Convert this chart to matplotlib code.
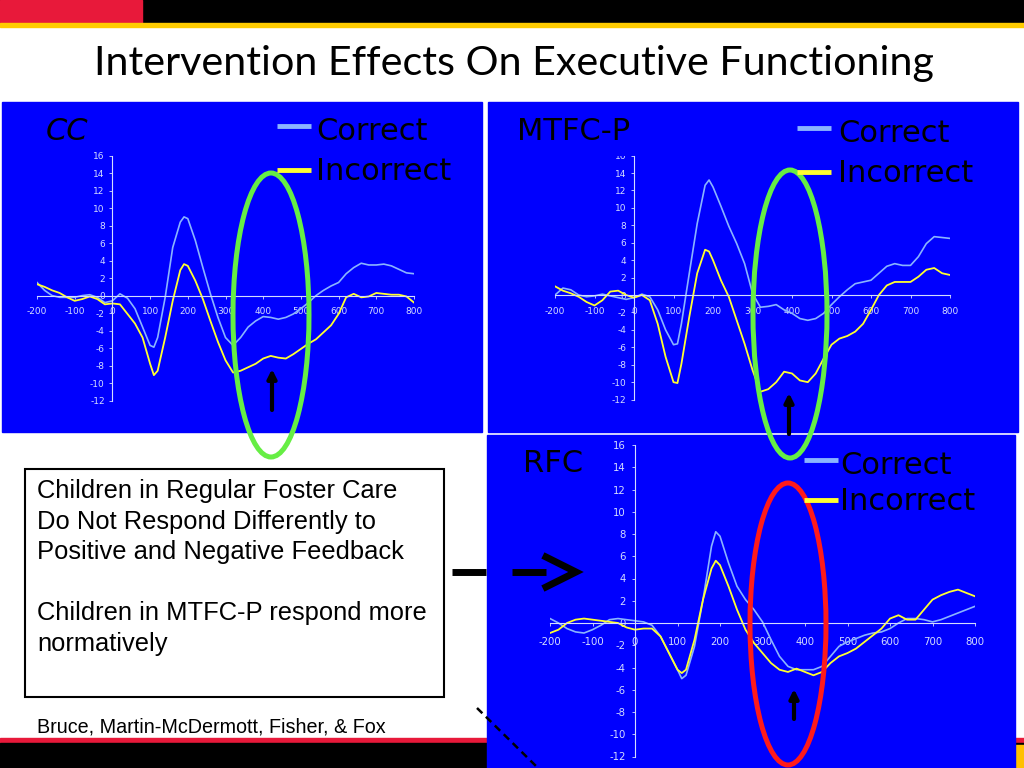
import matplotlib
matplotlib.use('Agg')
import matplotlib.pyplot as plt
from matplotlib.patches import Rectangle, Ellipse
from matplotlib.transforms import TransformedBbox, Bbox

plt.rcParams['axes.unicode_minus'] = False

# ERP time points (ms)
time_ms = [-200, -180, -160, -140, -120, -100, -80, -60, -40, -20,
           0, 20, 40, 60, 80, 100, 110, 120, 140, 160, 180, 190,
           200, 220, 240, 260, 280, 300, 320, 340, 360, 380,
           400, 420, 440, 460, 480, 500, 520, 540, 560, 580,
           600, 620, 640, 660, 680, 700, 720, 740, 760, 780, 800]

# CC group
cc_correct = [1.5, 0.6, 0.0, -0.2, -0.2, -0.2, 0.0, 0.1, -0.2, -0.8,
              -0.6, 0.2, -0.3, -1.5, -3.6, -5.7, -5.9, -4.8, -0.2, 5.5, 8.4, 9.0,
              8.8, 6.3, 3.2, 0.2, -2.5, -4.8, -5.7, -4.8, -3.6, -2.9,
              -2.4, -2.5, -2.7, -2.5, -2.1, -1.5, -0.8, 0.0, 0.6, 1.1,
              1.5, 2.5, 3.2, 3.7, 3.5, 3.5, 3.6, 3.4, 3.0, 2.6, 2.5]
cc_incorrect = [1.3, 1.0, 0.6, 0.3, -0.2, -0.6, -0.4, -0.1, -0.4, -1.0,
                -0.9, -1.0, -2.1, -3.2, -4.8, -7.8, -9.1, -8.6, -4.8, -0.6, 2.9, 3.6,
                3.4, 1.7, -0.4, -2.9, -5.3, -7.4, -8.8, -8.6, -8.2, -7.8,
                -7.2, -6.9, -7.1, -7.2, -6.7, -6.1, -5.5, -5.0, -4.2, -3.4,
                -2.1, -0.2, 0.2, -0.2, -0.1, 0.3, 0.2, 0.1, 0.1, -0.1, -0.8]

# MTFC-P group
mtfc_correct = [0.0, 0.8, 0.6, 0.0, -0.2, -0.1, 0.1, -0.1, -0.3, -0.5,
                -0.3, 0.1, -0.2, -1.7, -4.0, -5.7, -5.6, -3.3, 2.5, 8.2, 12.6, 13.2,
                12.4, 10.2, 7.9, 5.9, 3.6, 0.2, -1.4, -1.3, -1.1, -1.7,
                -2.1, -2.7, -2.9, -2.7, -2.1, -1.1, -0.2, 0.6, 1.3, 1.5,
                1.7, 2.5, 3.3, 3.6, 3.4, 3.4, 4.4, 5.9, 6.7, 6.6, 6.5]
mtfc_incorrect = [1.0, 0.5, 0.2, -0.2, -0.8, -1.2, -0.6, 0.4, 0.5, 0.0,
                  -0.3, 0.0, -0.6, -3.3, -7.1, -10.0, -10.1, -7.9, -2.5, 2.5, 5.2, 5.0,
                  4.0, 1.7, -0.2, -2.9, -5.6, -8.6, -11.1, -10.8, -10.0, -8.8,
                  -9.0, -9.8, -10.0, -9.0, -7.3, -5.7, -5.0, -4.7, -4.2, -3.3,
                  -1.7, 0.0, 1.1, 1.5, 1.5, 1.5, 2.1, 2.9, 3.1, 2.5, 2.3]

# RFC group
rfc_correct = [0.4, 0.0, -0.5, -0.8, -0.9, -0.6, -0.2, 0.3, 0.4, 0.3,
               0.2, 0.1, -0.2, -1.2, -2.7, -4.2, -5.0, -4.7, -2.1, 2.1, 6.9, 8.2,
               7.8, 5.4, 3.3, 2.1, 1.2, 0.1, -1.5, -3.0, -3.9, -4.2,
               -4.2, -4.2, -3.9, -3.0, -2.1, -1.7, -1.4, -1.1, -0.9, -0.8,
               -0.5, 0.0, 0.4, 0.4, 0.3, 0.1, 0.3, 0.6, 0.9, 1.2, 1.5]
rfc_incorrect = [-0.9, -0.6, 0.0, 0.3, 0.4, 0.3, 0.2, 0.1, 0.0, -0.4,
                 -0.6, -0.5, -0.5, -1.2, -2.7, -4.2, -4.5, -4.2, -1.5, 2.1, 4.9, 5.6,
                 5.2, 3.3, 1.2, -0.6, -1.8, -2.7, -3.6, -4.2, -4.4, -4.1,
                 -4.4, -4.7, -4.4, -3.6, -3.0, -2.7, -2.3, -1.7, -1.1, -0.5,
                 0.4, 0.7, 0.3, 0.3, 1.2, 2.1, 2.5, 2.8, 3.0, 2.7, 2.4]

x_ticks = [-200, -100, 0, 100, 200, 300, 400, 500, 600, 700, 800]
y_ticks = [-12, -10, -8, -6, -4, -2, 0, 2, 4, 6, 8, 10, 12, 14, 16]

title = 'Intervention Effects On Executive Functioning'
box_lines = ['Children in Regular Foster Care',
             'Do Not Respond Differently to',
             'Positive and Negative Feedback',
             '',
             'Children in MTFC-P respond more',
             'normatively']
citation = 'Bruce, Martin-McDermott, Fisher, & Fox'

W, H = 1024, 768
panel_blue = '#0000fe'
c_light = '#8ab4ff'
c_yellow = '#ffff30'
axis_col = '#d4dcff'

fig = plt.figure(figsize=(10.24, 7.68), dpi=100)

# slide background (pixel coordinates, y down)
bg = fig.add_axes([0, 0, 1, 1])
bg.set_xlim(0, W)
bg.set_ylim(H, 0)
bg.axis('off')

bg.add_patch(Rectangle((0, 0), W, 23, color='black'))
bg.add_patch(Rectangle((0, 0), 142, 23, color='#e8193a'))
bg.add_patch(Rectangle((0, 23), W, 4, color='#ffcc00'))
bg.add_patch(Rectangle((0, 738), W, 5, color='#e8193a'))
bg.add_patch(Rectangle((0, 743), W, 25, color='black'))
bg.add_patch(Rectangle((1015, 745), 9, 23, color='#ffc000'))

bg.text(514, 63, title, ha='center', va='center', fontsize=29.7,
        family=['Lato', 'DejaVu Sans'])

# blue panels
bg.add_patch(Rectangle((2, 102), 480, 330, color=panel_blue))
bg.add_patch(Rectangle((488, 102), 530, 330, color=panel_blue))
bg.add_patch(Rectangle((487, 435), 528, 333, color=panel_blue))

# text box
bg.add_patch(Rectangle((25, 469), 419, 228, fill=False, ec='black', lw=1.5))
for i, line in enumerate(box_lines):
    bg.text(37, 491 + i * 30.6, line, fontsize=18.4, va='center',
            family='Liberation Sans')
bg.text(37, 727, citation, fontsize=14.2, va='center', family='Liberation Sans')


def erp_panel(box, correct, incorrect, fs, xpad, ypad):
    x0, x1, yt, yb = box
    ax = fig.add_axes([x0 / W, 1 - yb / H, (x1 - x0) / W, (yb - yt) / H])
    ax.patch.set_visible(False)
    ax.plot(time_ms, correct, color=c_light, lw=1.2)
    ax.plot(time_ms, incorrect, color=c_yellow, lw=1.3)
    ax.set_xlim(-200, 800)
    ax.set_ylim(-12, 16)
    for s in ['top', 'right']:
        ax.spines[s].set_visible(False)
    for s in ['left', 'bottom']:
        ax.spines[s].set_position(('data', 0))
        ax.spines[s].set_color(axis_col)
        ax.spines[s].set_linewidth(0.8)
    ax.set_xticks(x_ticks)
    ax.set_yticks(y_ticks)
    ax.tick_params(axis='x', colors=axis_col, labelsize=fs, length=2,
                   width=0.6, pad=xpad)
    ax.tick_params(axis='y', colors=axis_col, labelsize=fs, length=2.5,
                   width=0.6, pad=ypad)
    return ax


ax_cc = erp_panel((37, 414, 155.7, 400.5), cc_correct, cc_incorrect, 6.5, 6.5, 3)
ax_mt = erp_panel((555, 950, 155.6, 399.6), mtfc_correct, mtfc_incorrect, 6.5, 6.5, 3)
ax_rf = erp_panel((550, 975, 445, 756.5), rfc_correct, rfc_incorrect, 7.3, 8, 4)

# the "16" label of MTFC-P is cut by the plot area top
top_lbl = ax_mt.yaxis.get_major_ticks()[-1].label1
top_lbl.set_clip_on(True)
top_lbl.set_clip_box(TransformedBbox(Bbox([[-1, 0], [1, 1]]), ax_mt.transAxes))

# overlay for annotations
ov = fig.add_axes([0, 0, 1, 1])
ov.set_xlim(0, W)
ov.set_ylim(H, 0)
ov.axis('off')

lbl_font = dict(fontsize=22, color='black', va='center', family='DejaVu Sans')
ov.text(46, 132, 'CC', style='italic', **lbl_font)
ov.text(517, 131, 'MTFC-P', **lbl_font)
ov.text(523, 463, 'RFC', **lbl_font)

legends = [(277, 126, 170, 316), (797, 128, 172, 838), (804, 460, 500, 840)]
for lx, yc, yi, tx in legends:
    ov.plot([lx, lx + 34], [yc, yc], color=c_light, lw=3.5, solid_capstyle='butt')
    ov.plot([lx, lx + 34], [yi, yi], color=c_yellow, lw=3.5, solid_capstyle='butt')
    ov.text(tx, yc + 5, 'Correct', **lbl_font)
    ov.text(tx, yi + 1, 'Incorrect', **lbl_font)

ov.add_patch(Ellipse((271, 315), 76, 284, fill=False, ec='#66ee44', lw=3.6))
ov.add_patch(Ellipse((790, 314), 74, 288, fill=False, ec='#66ee44', lw=3.6))
ov.add_patch(Ellipse((788, 624), 76, 282, fill=False, ec='#ff1a1a', lw=3.6))

for ax_x, tip, tail in [(272, 369, 410), (789, 393, 434), (794, 689, 719)]:
    ov.annotate('', xy=(ax_x, tip), xytext=(ax_x, tail),
                arrowprops=dict(arrowstyle='-|>', color='black', lw=3,
                                mutation_scale=13, shrinkA=0, shrinkB=0))

# "- ->" pointer to the RFC chart
ov.plot([452, 486], [572, 572], color='black', lw=5, solid_capstyle='butt')
ov.plot([512, 546], [572, 572], color='black', lw=5, solid_capstyle='butt')
ov.plot([546, 576, 546], [557, 572, 587], color='black', lw=5,
        solid_joinstyle='miter')

ov.plot([477, 538], [708, 768], color='black', lw=1.8, ls=(0, (3, 2)))

fig.savefig('out.png', dpi=100)
